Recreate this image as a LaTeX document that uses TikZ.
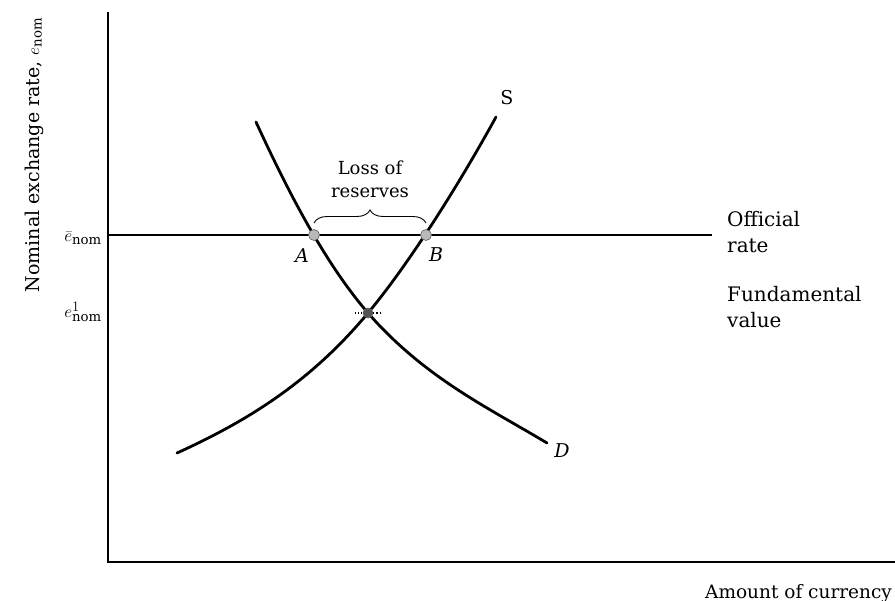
\documentclass[tikz,border=0pt]{standalone}
\usepackage{fontspec}
\setmainfont{DejaVu Serif}
\usetikzlibrary{decorations.pathreplacing}
\begin{document}
\begin{tikzpicture}[x=1pt,y=-1pt,
  axis/.style={line width=1.5pt},
  curve/.style={line width=2.8pt, line cap=round},
  lbl/.style={inner sep=0pt},
  ptdot/.style={circle, fill=gray!55, draw=gray!75!black, line width=0.6pt, minimum size=11pt, inner sep=0pt}
]
\useasboundingbox (0,0) rectangle (895,601);
% axes
\coordinate (O) at (108,562);
\coordinate (Ytop) at (108,12);
\coordinate (Xend) at (895,562);
\draw[axis] (Ytop) -- (O) -- (Xend);
% official rate line
\coordinate (Lstart) at (108,235);
\coordinate (Lend) at (712,235);
\draw[line width=2.2pt] (Lstart) -- (Lend);
% curve end points
\coordinate (E0) at (368,313);
\coordinate (Dtop) at (256,122);
\coordinate (Dend) at (547,443);
\coordinate (Sbot) at (177,453);
\coordinate (Stop) at (496,117);
% demand curve D
\draw[curve] (Dtop) .. controls (285,185) and (323,261) .. (E0)
  .. controls (425,378) and (487,407) .. (Dend);
% supply curve S
\draw[curve] (Sbot) .. controls (252,419) and (313,379) .. (E0)
  .. controls (408,265) and (457,188) .. (Stop);
% points
\node[ptdot] (A) at (314,235) {};
\node[ptdot] (B) at (426,235) {};
\node[ptdot, fill=gray!65!black, minimum size=10pt] (E) at (E0) {};
\draw[dotted, line width=1.1pt] ([xshift=-13pt]E.center) -- (E.west);
\draw[dotted, line width=1.1pt] (E.east) -- ([xshift=13pt]E.center);
% brace
\draw[decorate, decoration={brace, amplitude=13pt}, line width=0.9pt]
  ([yshift=12pt]A.center) -- ([yshift=12pt]B.center);
\node[lbl, font=\fontsize{18}{23}\selectfont, align=center] (loss) at (370,179) {Loss of\\reserves};
% labels
\node[lbl, font=\fontsize{19}{24}\selectfont\itshape] (Alab) at (302,256) {A};
\node[lbl, font=\fontsize{19}{24}\selectfont\itshape] (Blab) at (436,255) {B};
\node[lbl, font=\fontsize{19}{24}\selectfont] (Slab) at (507,98) {S};
\node[lbl, font=\fontsize{19}{24}\selectfont\itshape] (Dlab) at (562,451) {D};
\node[lbl, anchor=base west, font=\fontsize{20}{26}\selectfont, align=left] (off) at (727,253) {Official\\rate};
\node[lbl, anchor=base west, font=\fontsize{20}{26}\selectfont, align=left] (fund) at (727,328) {Fundamental\\value};
\node[lbl, anchor=base west, font=\fontsize{18.5}{23}\selectfont] (xlab) at (705,598) {Amount of currency};
\node[lbl, anchor=east, font=\fontsize{19}{24}\selectfont] (ebar) at (102,238) {$\bar{e}_{\mathrm{nom}}$};
\node[lbl, anchor=east, font=\fontsize{19}{24}\selectfont] (eone) at (102,312) {$e^{1}_{\mathrm{nom}}$};
\node[lbl, rotate=90, font=\fontsize{19}{24}\selectfont] (ylab) at (34,155) {Nominal exchange rate, $e_{\mathrm{nom}}$};
\end{tikzpicture}
\end{document}
